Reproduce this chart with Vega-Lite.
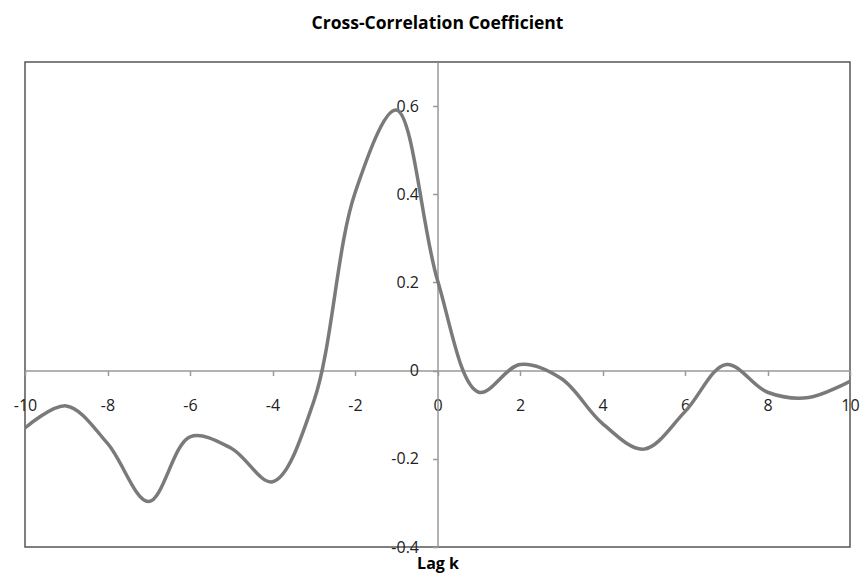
{
  "$schema": "https://vega.github.io/schema/vega-lite/v6.json",
  "autosize": {"type": "none"},
  "padding": {"left": 25, "top": 62, "right": 12, "bottom": 29},
  "width": 825,
  "height": 485,
  "background": "white",
  "config": {
    "view": {"stroke": "#555555", "strokeWidth": 1.5},
    "font": "Open Sans"
  },
  "title": {
    "text": "Cross-Correlation Coefficient",
    "font": "Open Sans",
    "fontSize": 17.5,
    "fontWeight": "bold",
    "color": "#000000",
    "anchor": "middle",
    "offset": 30
  },
  "data": {
    "values": [
      {"lag": -10, "r": -0.13},
      {"lag": -9, "r": -0.08},
      {"lag": -8, "r": -0.165},
      {"lag": -7, "r": -0.297},
      {"lag": -6, "r": -0.15},
      {"lag": -5, "r": -0.176},
      {"lag": -4, "r": -0.252},
      {"lag": -3, "r": -0.07},
      {"lag": -2, "r": 0.403},
      {"lag": -1, "r": 0.591},
      {"lag": 0, "r": 0.205},
      {"lag": 1, "r": -0.049},
      {"lag": 2, "r": 0.014},
      {"lag": 3, "r": -0.018},
      {"lag": 4, "r": -0.12},
      {"lag": 5, "r": -0.178},
      {"lag": 6, "r": -0.093},
      {"lag": 7, "r": 0.014},
      {"lag": 8, "r": -0.049},
      {"lag": 9, "r": -0.061},
      {"lag": 10, "r": -0.024}
    ]
  },
  "mark": {"type": "line", "interpolate": "catmull-rom", "color": "#7a7a7a", "strokeWidth": 3.5, "clip": true},
  "encoding": {
    "x": {
      "field": "lag",
      "type": "quantitative",
      "scale": {"domain": [-10, 10], "nice": false, "zero": false},
      "axis": {
        "title": "Lag k",
        "titleFont": "Open Sans",
        "titleFontSize": 16,
        "titleFontWeight": "bold",
        "titleColor": "#000000",
        "titleY": 193,
        "titleBaseline": "middle",
        "values": [-10, -8, -6, -4, -2, 0, 2, 4, 6, 8, 10],
        "labelExpr": "toString(datum.value)",
        "offset": -176.4,
        "domainColor": "#999999",
        "domainWidth": 1.5,
        "tickColor": "#999999",
        "tickWidth": 1.5,
        "tickSize": 5,
        "labelFont": "Open Sans",
        "labelFontSize": 16,
        "labelColor": "#222222",
        "labelPadding": 22,
        "labelFlush": false,
        "labelOverlap": false,
        "grid": false
      }
    },
    "y": {
      "field": "r",
      "type": "quantitative",
      "scale": {"domain": [-0.4, 0.7], "nice": false, "zero": false},
      "axis": {
        "title": null,
        "values": [-0.4, -0.2, 0, 0.2, 0.4, 0.6],
        "labelExpr": "toString(datum.value)",
        "offset": -412.5,
        "domainColor": "#999999",
        "domainWidth": 1.5,
        "tickColor": "#999999",
        "tickWidth": 1.5,
        "tickSize": 5,
        "labelFont": "Open Sans",
        "labelFontSize": 16,
        "labelColor": "#222222",
        "labelPadding": 14,
        "labelOverlap": false,
        "labelFlush": false,
        "grid": false
      }
    }
  }
}
